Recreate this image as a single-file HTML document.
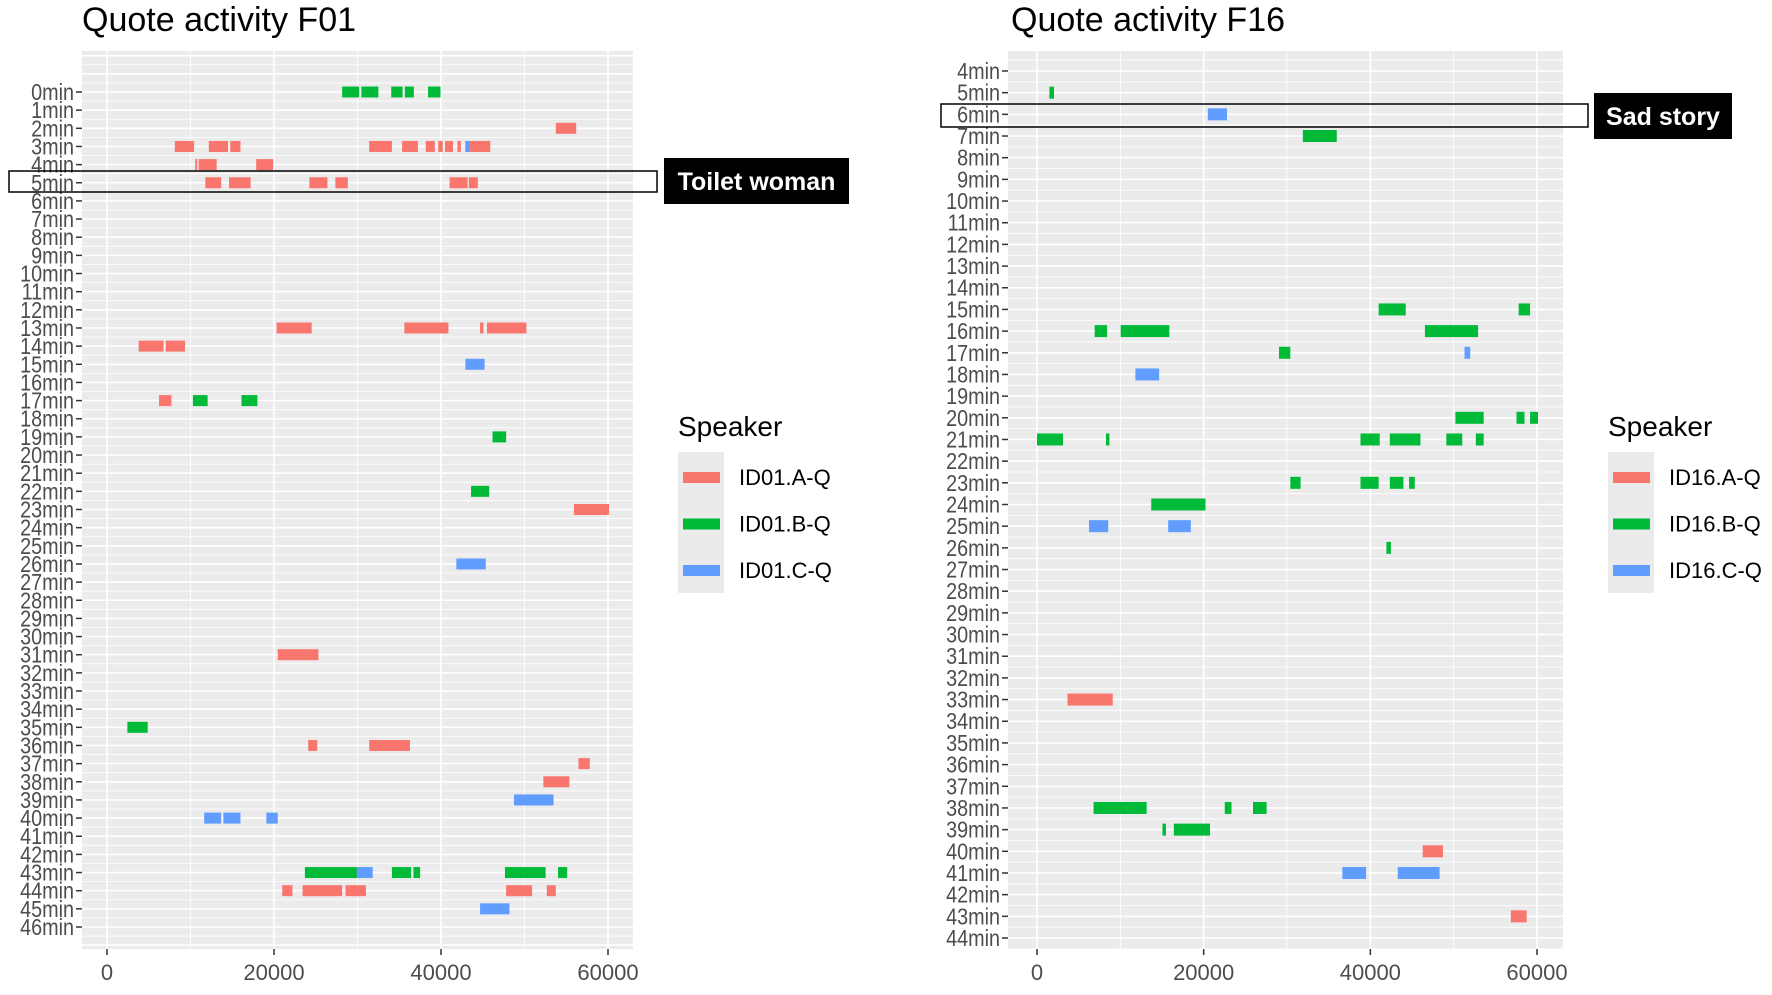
<!DOCTYPE html>
<html><head><meta charset="utf-8"><style>
body{margin:0;background:#fff;width:1772px;height:990px;overflow:hidden;font-family:"Liberation Sans",sans-serif}
</style></head><body>
<svg id="s" width="1772" height="990" xmlns="http://www.w3.org/2000/svg"></svg>
<script>
// ---- F01 data: [minute, start, end] ----
const f01Red=[[2,53750,56190],[3,8120,10430],[3,12190,14490],[3,14760,15980],[3,31400,34120],[3,35340,37240],[3,38180,39260],[3,39670,40210],[3,40480,41430],[3,41970,42380],[3,42920,45900],[4,10560,10700],[4,10970,13130],[4,17870,19900],[5,11780,13670],[5,14620,17200],[5,24240,26400],[5,27350,28840],[5,41030,43190],[5,43330,44410],[13,20310,24510],[13,35610,40890],[13,44680,45090],[13,45500,50230],[14,3790,6770],[14,7040,9340],[17,6230,7720],[23,55920,60120],[31,20450,25320],[36,24100,25180],[36,31400,36290],[37,56460,57820],[38,52260,55380],[44,20990,22210],[44,23420,28160],[44,28570,31010],[44,47800,50910],[44,52670,53750]];
const f01Green=[[0,28160,30200],[0,30470,32500],[0,34040,35400],[0,35670,36750],[0,38450,39940],[17,10290,12050],[17,16110,18010],[19,46170,47800],[22,43600,45770],[35,2440,4870],[43,23700,29920],[43,29920,30740],[43,34120,36420],[43,36700,37500],[43,47660,52530],[43,54020,55110]];
const f01Blue=[[3,42920,43350],[15,42920,45220],[26,41840,45360],[39,48740,53480],[40,11640,13670],[40,13940,15980],[40,19090,20450],[43,29920,31820],[45,44680,48200]];
// ---- F16 data ----
const f16Red=[[33,3660,9090],[40,46280,48720],[43,56860,58760]];
const f16Green=[[5,1490,2040],[7,31900,35970],[15,41000,44250],[15,57800,59170],[16,6920,8410],[16,10040,15880],[16,46550,52930],[17,29040,30400],[20,50210,53600],[20,57540,58500],[20,59170,60120],[21,0,3120],[21,8280,8690],[21,38820,41130],[21,42340,46010],[21,49120,51030],[21,52660,53600],[23,30400,31630],[23,38820,41000],[23,42340,43970],[23,44650,45330],[24,13710,20220],[26,41930,42470],[38,6790,13160],[38,22530,23340],[38,25920,27550],[39,15060,15470],[39,16420,20760]];
const f16Blue=[[6,20500,22800],[17,51300,51990],[18,11810,14660],[25,6240,8550],[25,15740,18460],[41,36640,39490],[41,43290,48310]];
const xTicks=[0,20000,40000,60000];
const colors={red:"#F8766D",green:"#00BA38",blue:"#619CFF"};
const NS="http://www.w3.org/2000/svg";
const svg=document.getElementById('s');
function el(t,a,p){const e=document.createElementNS(NS,t);for(const k in a)e.setAttribute(k,a[k]);(p||svg).appendChild(e);return e;}

function panel(cfg){
  const g=el('g',{});
  
  
  const xs=v=>cfg.x0+(v/60000)*(cfg.x6-cfg.x0);
  const ys=m=>cfg.y0+(m-cfg.mMin)/(cfg.mMax-cfg.mMin)*(cfg.y1-cfg.y0);
  const step=(cfg.y1-cfg.y0)/(cfg.mMax-cfg.mMin);
  const bg=el('rect',{x:cfg.L,y:cfg.T,width:cfg.R-cfg.L,height:cfg.B-cfg.T,fill:'#EBEBEB'},g);
  
  
  for(let v=-10000;v<=70000;v+=20000){const x=xs(v);if(x<cfg.R&&x>cfg.L)el('line',{x1:x,x2:x,y1:cfg.T,y2:cfg.B,stroke:'#fff','stroke-width':0.8},g);}
  xTicks.forEach(v=>el('line',{x1:xs(v),x2:xs(v),y1:cfg.T,y2:cfg.B,stroke:'#fff','stroke-width':1.6},g));
  for(let m=cfg.mMin-3;m<=cfg.mMax+3;m++){
    const y=ys(m);
    if(y>cfg.T&&y<cfg.B)el('line',{x1:cfg.L,x2:cfg.R,y1:y,y2:y,stroke:'#fff','stroke-width':1.6},g);
    const y2=y+step/2;
    if(y2>cfg.T&&y2<cfg.B)el('line',{x1:cfg.L,x2:cfg.R,y1:y2,y2:y2,stroke:'#fff','stroke-width':0.8},g);
  }
  for(let m=cfg.mMin;m<=cfg.mMax;m++){
    const y=ys(m);
    el('line',{x1:cfg.L-6,x2:cfg.L,y1:y,y2:y,stroke:'#333','stroke-width':1.5},g);
    const t=el('text',{x:cfg.L-8,y:y+8,'text-anchor':'end','font-size':23,fill:'#4D4D4D',transform:`translate(${cfg.L-8} 0) scale(0.86 1) translate(${-(cfg.L-8)} 0)`},g);
    t.textContent=m+'min';
    
    
  }
  xTicks.forEach(v=>{
    el('line',{x1:xs(v),x2:xs(v),y1:cfg.B,y2:cfg.B+6,stroke:'#333','stroke-width':1.5},g);
    const t=el('text',{x:xs(v),y:cfg.B+31,'text-anchor':'middle','font-size':22,fill:'#4D4D4D'},g);
    t.textContent=v;
    
    
  });
  const h=cfg.bh;
  [['red',cfg.red],['green',cfg.green],['blue',cfg.blue]].forEach(([c,arr])=>{
    arr.forEach(d=>{
      const r=el('rect',{x:xs(d[1]),y:ys(d[0])-h/2,width:Math.max(2,xs(d[2])-xs(d[1])),height:h,fill:colors[c]},g);
      
      
    });
  });
  const ti=el('text',{x:cfg.tx,y:31,'font-size':34,fill:'#000'},g);
  ti.textContent=cfg.title;
  
  
  const lg=el('g',{},g);
  
  
  const lt=el('text',{x:cfg.lx,y:436,'font-size':28,fill:'#000'},lg);
  lt.textContent='Speaker';
  el('rect',{x:cfg.lx,y:452,width:46,height:141,fill:'#EBEBEB'},lg);
  cfg.labels.forEach((s,i)=>{
    const y=477+i*46.5;
    const e=el('g',{},lg);
    
    
    el('rect',{x:cfg.lx+5,y:y-5,width:37,height:11,fill:[colors.red,colors.green,colors.blue][i]},e);
    const tt=el('text',{x:cfg.lx+61,y:y+8,'font-size':22,fill:'#000'},e);
    tt.textContent=s;
  });
  const an=el('g',{},g);
  
  
  el('rect',{x:cfg.ax,y:cfg.ay,width:cfg.aw,height:cfg.ah,fill:'none',stroke:'#000','stroke-width':1.5},an);
  el('rect',{x:cfg.bx,y:cfg.by,width:cfg.bw,height:46,fill:'#000'},an);
  const at=el('text',{x:cfg.bx+cfg.bw/2,y:cfg.by+32,'text-anchor':'middle','font-size':25,'font-weight':'bold',fill:'#fff'},an);
  at.textContent=cfg.anno;
}
panel({id:'f01',L:82,R:633,T:51,B:949,x0:107,x6:608,y0:92,y1:927,mMin:0,mMax:46,bh:11,
  red:f01Red,green:f01Green,blue:f01Blue,title:'Quote activity F01',tx:82,lx:678,
  labels:['ID01.A-Q','ID01.B-Q','ID01.C-Q'],ax:9,ay:171,aw:648,ah:21,bx:664,by:158,bw:185,anno:'Toilet woman'});
panel({id:'f16',L:1008,R:1563,T:51,B:949,x0:1037,x6:1537,y0:71,y1:938,mMin:4,mMax:44,bh:12,
  red:f16Red,green:f16Green,blue:f16Blue,title:'Quote activity F16',tx:1011,lx:1608,
  labels:['ID16.A-Q','ID16.B-Q','ID16.C-Q'],ax:941,ay:104,aw:647,ah:23,bx:1594,by:93,bw:138,anno:'Sad story'});
</script>
</body></html>
